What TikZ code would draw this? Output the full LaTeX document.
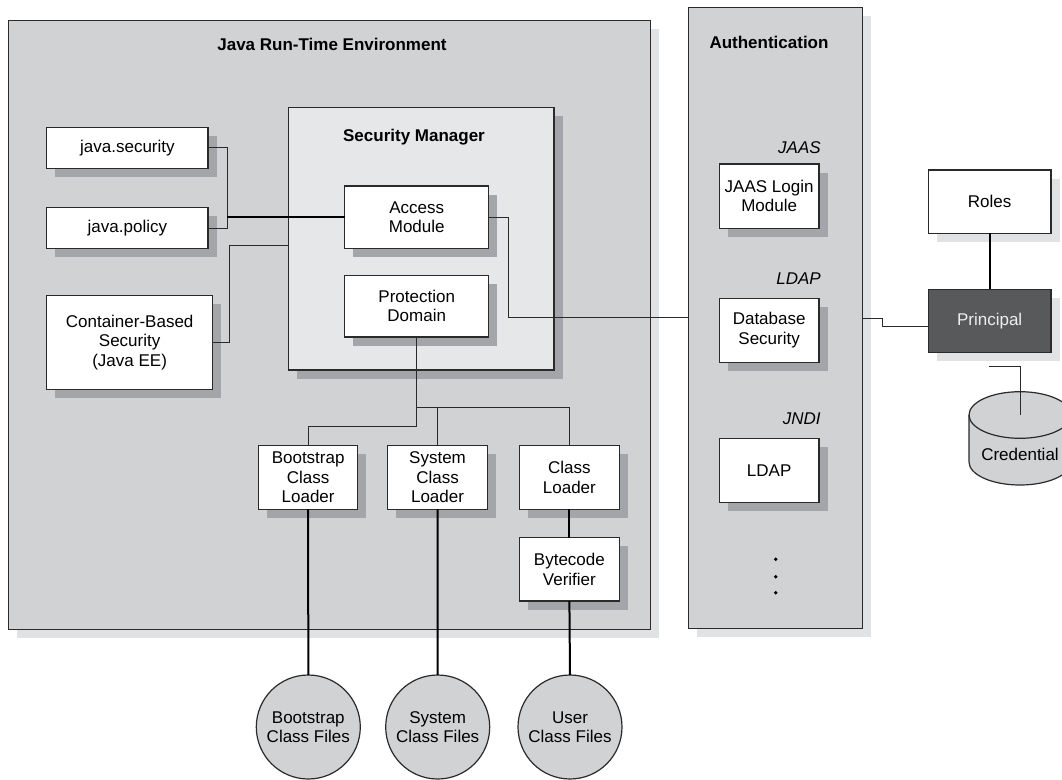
\documentclass[tikz,border=0pt]{standalone}
\usepackage{fontspec}
\setmainfont{Liberation Sans}
\usetikzlibrary{shadows}
\definecolor{panel}{HTML}{D1D2D4}
\definecolor{smfill}{HTML}{E6E7E8}
\definecolor{shdark}{HTML}{A4A5A8}
\definecolor{shlight}{HTML}{E1E2E4}
\definecolor{princ}{HTML}{58595B}
\definecolor{edge}{HTML}{2A2A2A}
\definecolor{ptext}{HTML}{EEEEEE}
\begin{document}
\begin{tikzpicture}[x=1pt,y=-1pt,
  font=\fontsize{17}{19.5}\selectfont,
  every node/.style={inner sep=0pt, outer sep=0pt},
  dshadow/.style={drop shadow={shadow xshift=8.5pt, shadow yshift=-8.5pt, fill=shdark, opacity=1}},
  lshadow/.style={drop shadow={shadow xshift=8.5pt, shadow yshift=-8.5pt, fill=shlight, opacity=1}},
  panelbox/.style={draw=edge, line width=1.2pt, fill=panel, lshadow},
  smbox/.style={draw=edge, line width=1.2pt, fill=smfill, dshadow},
  box/.style={draw=edge, line width=1.2pt, fill=white, align=center, dshadow},
  wbox/.style={draw=edge, line width=1.2pt, fill=white, align=center, lshadow},
  pbox/.style={draw=edge, line width=1.2pt, fill=princ, text=ptext, align=center, lshadow},
  disk/.style={circle, draw=edge, line width=1.2pt, fill=panel, align=center, minimum size=104pt},
  title/.style={font=\fontsize{17}{19.5}\selectfont\bfseries},
  tag/.style={font=\fontsize{17}{19.5}\selectfont\itshape, anchor=east},
  thin/.style={draw=edge, line width=1pt},
  thick/.style={draw=black, line width=2pt},
  dot/.style={circle, fill=black, minimum size=3.8pt}
]
\clip (0,0) rectangle (1062,779);
\fill[white] (0,0) rectangle (1062,779);

% panels
\node[panelbox, minimum width=641.8pt, minimum height=608.6pt] (jre) at (329.6,325) {};
\node[panelbox, minimum width=174.4pt, minimum height=621pt] (auth) at (775.5,317.8) {};
\node[title] (jretitle) at (332,44) {Java Run-Time Environment};
\node[title] (authtitle) at (769,42.3) {Authentication};

\node[smbox, minimum width=265.6pt, minimum height=262.3pt] (sm) at (421.2,238.85) {};
\node[title] (smtitle) at (414,137) {Security Manager};

% left boxes
\node[box, minimum width=161.2pt, minimum height=41pt] (jsec) at (127.4,147.8) {java.security};
\node[box, minimum width=161.2pt, minimum height=41pt] (jpol) at (127.4,228.2) {java.policy};
\node[box, minimum width=165.7pt, minimum height=93.6pt] (cont) at (129.65,342.5) {Container-Based\\Security\\(Java EE)};

% security manager boxes
\node[box, minimum width=143.9pt, minimum height=62.3pt] (acc) at (416.75,217.15) {Access\\Module};
\node[box, minimum width=143.9pt, minimum height=61.7pt] (pd) at (416.75,306.15) {Protection\\Domain};

% class loaders
\node[box, minimum width=99.3pt, minimum height=64pt] (bcl) at (308.15,477.3) {Bootstrap\\Class\\Loader};
\node[box, minimum width=99.7pt, minimum height=64pt] (scl) at (437.55,477.3) {System\\Class\\Loader};
\node[box, minimum width=99.8pt, minimum height=64pt] (cl) at (569.4,477.3) {Class\\Loader};
\node[box, minimum width=99.8pt, minimum height=63.3pt] (bv) at (569.4,569.35) {Bytecode\\Verifier};

% class files
\node[disk] (bcf) at (308.3,727) {Bootstrap\\Class Files};
\node[disk] (scf) at (437.7,727) {System\\Class Files};
\node[disk] (ucf) at (570,727) {User\\Class Files};

% authentication
\node[tag] (jaastag) at (820.7,147.3) {JAAS};
\node[box, minimum width=99.7pt, minimum height=64.3pt] (jaas) at (769.15,196.15) {JAAS Login\\Module};
\node[tag] (ldaptag) at (820.7,278.3) {LDAP};
\node[box, minimum width=99.7pt, minimum height=64pt] (dbs) at (769.15,330.3) {Database\\Security};
\node[tag] (jnditag) at (820.7,419) {JNDI};
\node[box, minimum width=99.7pt, minimum height=64pt] (ldap) at (769.15,470.3) {LDAP};
\node[dot] (d1) at (775.7,559.3) {};
\node[dot] (d2) at (775.7,576.7) {};
\node[dot] (d3) at (775.7,592.7) {};

% roles / principal
\node[wbox, minimum width=122.7pt, minimum height=63.3pt] (roles) at (989.65,201.65) {Roles};
\node[pbox, minimum width=122.7pt, minimum height=63.4pt] (princ) at (989.65,321) {Principal};

% credential cylinder
\filldraw[draw=edge, fill=panel, line width=1.2pt]
  (969,415) -- (969,462) arc[start angle=180, end angle=360, x radius=51pt, y radius=23pt]
  -- (1071,415) arc[start angle=0, end angle=180, x radius=51pt, y radius=23.3pt] -- cycle;
\draw[draw=edge, line width=1.2pt] (969,415) arc[start angle=180, end angle=360, x radius=51pt, y radius=23.3pt];
\coordinate (credtop) at (1020,415);
\node (cred) at (1020,454) {Credential};

% connectors
\coordinate (pjoin) at (227,217.15);
\draw[thin] (jsec.east) -- (227,147.8) -- (227,228.2) -- (jpol.east);
\draw[thick] (pjoin) -- (acc.west);
\draw[thin] (cont.east |- 0,342.3) -- (229.8,342.3) -- (229.8,245) -- (sm.west |- 0,245);
\draw[thin] (acc.east) -- (508,217.15) -- (508,317.7) -- (auth.west |- 0,317.7);
\draw[thin] (auth.east |- 0,318.3) -- (882.3,318.3) -- (882.3,326.7) -- (princ.west |- 0,326.7);
\draw[thick] (roles.south -| 990,0) -- (princ.north -| 990,0);
\coordinate (credstart) at (989.3,366.7);
\draw[thin] (credstart) -- (1020,366.7) -- (credtop);

\draw[thin] (pd.south -| 416.3,0) -- (416.3,426.7) -- (308.15,426.7) -- (bcl.north);
\draw[thin] (416.3,407.7) -- (569.4,407.7) -- (cl.north);
\draw[thin] (437.55,407.7) -- (scl.north);
\draw[thick] (cl.south) -- (bv.north);
\draw[thick] (bcl.south) -- (bcf.north);
\draw[thick] (scl.south) -- (scf.north);
\draw[thick] (bv.south) -- (ucf.north);
\end{tikzpicture}
\end{document}
